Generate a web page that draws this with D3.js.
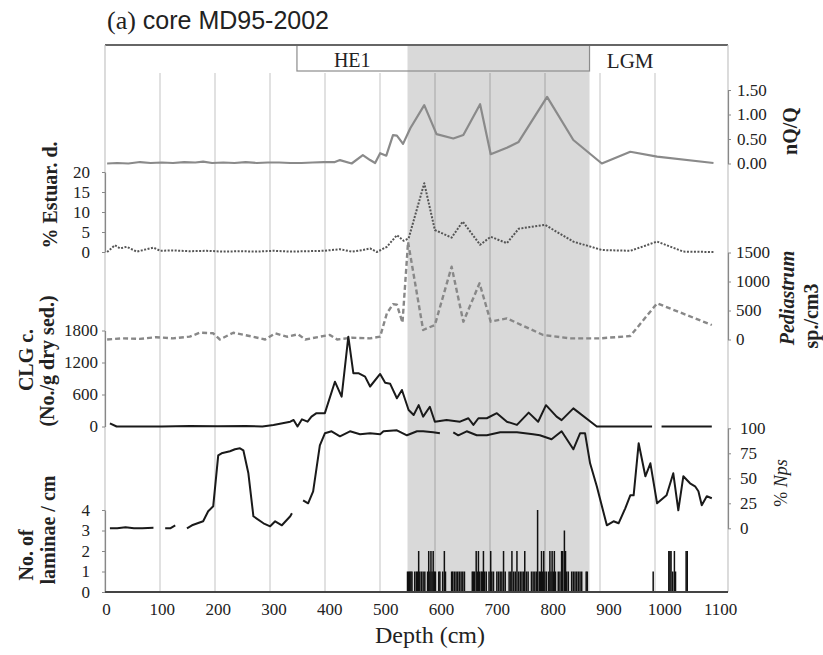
<!DOCTYPE html>
<html><head><meta charset="utf-8">
<script src="https://cdn.jsdelivr.net/npm/d3@7"></script>
<style>body{margin:0;background:#fff} svg{display:block}</style>
</head><body>
<script>
// ---------------- data ----------------
const xTicks = [0,100,200,300,400,500,600,700,800,900,1000,1100];
const gridTicks = [100,200,300,400,500,600,700,800,900,1000];
// zone bounds (depth, cm): HE1 box start, shaded start, shaded end
const zoneBounds = [342, 540, 866];
const lgmDepth = 897;

// nQ/Q (grey solid)
const qDepth = [2,20,40,61,80,100,120,140,160,174,190,210,230,250,270,290,310,330,350,370,390,410,419,440,460,473,482,491,502,514,521,532,545,570,592,622,640,670,689,718,739,790,837,888,939,987,1088];
const qVal   = [0.0,0.01,0.0,0.03,0.01,0.02,0.01,0.03,0.02,0.04,0.01,0.02,0.01,0.03,0.01,0.02,0.02,0.01,0.01,0.02,0.03,0.03,0.07,0.0,0.17,0.07,0.01,0.21,0.16,0.58,0.57,0.40,0.72,1.19,0.60,0.51,0.58,1.21,0.19,0.32,0.44,1.36,0.48,0.0,0.24,0.14,0.01];

// % Estuarine dinocysts (dotted)
const eDepth = [2,16,25,37,55,85,97,120,150,180,210,240,270,300,330,360,390,419,440,460,473,485,503,521,533,542,570,589,619,639,670,689,718,739,786,837,888,939,987,1034,1088];
const eVal   = [0,1.7,0.9,1.3,0.1,1.1,0.3,0.4,0.2,0.3,0.1,0.2,0.1,0.3,0.1,0.2,0.3,0.7,0.1,0.5,0.9,0,1.3,4.2,2.8,3.4,17.2,5.5,3.6,7.6,1.8,3.8,2.2,5.8,6.8,2.6,0.5,0.3,2.6,0.1,0];

// Pediastrum sp./cm3 (dashed)
const pDepth = [2,30,60,90,120,150,168,192,204,228,263,285,303,324,344,357,383,401,414,440,473,491,503,514,521,531,541,568,589,619,640,669,689,718,783,831,885,939,987,1085];
const pVal   = [0,20,10,40,20,50,117,107,0,117,48,0,107,48,90,0,48,78,0,30,20,50,450,610,600,290,1680,164,250,1255,307,969,307,365,78,20,20,60,624,250];

// CLG concentration (black solid), null = gap
const cDepth = [7,19,50,100,150,200,250,280,300,330,336,343,351,361,368,377,392,410,422,434,443,452,464,473,491,500,509,521,530,542,551,560,568,580,589,610,634,649,658,667,682,700,718,736,757,774,788,807,816,837,879,930,978,986,995,1040,1085];
const cVal   = [60,0,0,0,10,5,10,0,30,90,122,0,135,90,185,250,250,840,560,1685,1000,1000,935,750,985,820,800,530,685,310,215,400,185,370,90,120,90,155,30,155,155,250,90,30,260,90,400,185,120,340,0,0,0,null,0,0,0];

// % Nps (black solid), null = gap
const nDepth = [7,20,35,50,65,85,95,106,115,124,135,145,154,174,183,192,201,207,222,231,240,246,255,264,282,294,303,315,330,333,343,353,362,371,377,383,392,404,419,437,455,473,491,497,521,539,557,568,586,598,610,622,631,646,664,682,706,736,765,777,798,816,837,849,858,867,879,897,909,918,930,939,945,954,966,975,987,1004,1016,1025,1034,1046,1055,1061,1067,1076,1085];
const nVal   = [0,0,1,0,0,0.5,null,0,0,3,null,0,3,7,17,22,73,75,77,79,80,78,55,12,5,2,7,3,12,15,null,28,25,37,60,83,95,97,92,97,94,95,94,97,98,93,97,97,96,95,null,96,93,97,93,93,96,96,94,93,89,97,79,95,95,65,42,3,7,5,20,33,33,85,52,65,25,33,55,18,52,45,42,37,23,32,30];

// No. of laminae / cm (bars)
const lamDepth = [540,542,544,546,548,553,556,558,560,562,565,568,571,576,578,580,582,584,586,588,590,596,598,603,606,608,619,621,624,627,630,633,636,639,642,656,658,660,663,665,667,669,672,674,676,678,681,686,689,691,694,700,703,706,709,712,715,722,725,727,730,733,736,739,742,745,748,750,753,756,762,765,768,771,773,776,778,780,782,784,786,789,793,795,797,799,801,803,805,810,813,816,818,821,823,825,828,834,837,840,843,846,849,852,860,862,980,1008,1010,1012,1015,1018,1020,1039,1041];
const lamCount = [1,1,1,1,1, 1,1,1,2,1,1,1,1, 1,2,1,2,1,2,1,1, 1,1, 1,2,1, 1,1,1,1,1,1,1,1,1, 1,1,1,2,1,2,1,1,1,2,1,1, 1,2,1,1, 1,1,1,1,2,1, 1,1,2,1,1,2,1,1,1,1,2,1,1, 1,1,1, 1,4,1,1,2,1,2,1,1, 1,2,1,2,1,2,1, 1,1,2,2,3,2,1,1, 1,1,1,1,1,1,1, 1,1, 1, 2,2,2,1,2,1, 2,2];

const qTicks = [0,0.5,1,1.5];
const eTicks = [0,5,10,15,20];
const pTicks = [0,500,1000,1500];
const cTicks = [0,600,1200,1800];
const nTicks = [0,25,50,75,100];
const lTicks = [0,1,2,3,4];

// ---------------- drawing ----------------
const W = 823, H = 655;
const SERIF = "'Liberation Serif','Times New Roman',serif";
const svg = d3.select("body").append("svg").attr("width", W).attr("height", H)
  .style("font-family", SERIF);

const L = 105, R = 728, T = 45, B = 592;
const x = d3.scaleLinear().domain([0, 1114]).range([106, 728]);
const gridX = d3.scaleLinear().domain([0, 1100]).range([105, 710]);

const yQ = d3.scaleLinear().domain([0, 1.5]).range([163.5, 90]);
const yE = d3.scaleLinear().domain([0, 20]).range([252, 172]);
const yP = d3.scaleLinear().domain([0, 1500]).range([339.5, 252.5]);
const yC = d3.scaleLinear().domain([0, 1800]).range([426.5, 330.5]);
const yN = d3.scaleLinear().domain([0, 100]).range([528.3, 428.3]);
const yL = d3.scaleLinear().domain([0, 4]).range([592, 510]);

const plain = d => String(d);

// shaded interval
svg.append("rect")
  .attr("x", x(zoneBounds[1])).attr("y", T)
  .attr("width", x(zoneBounds[2]) - x(zoneBounds[1])).attr("height", B - T)
  .attr("fill", "#d9d9d9");

// gridlines
svg.append("g").selectAll("line").data(gridTicks).join("line")
  .attr("x1", d => gridX(d)).attr("x2", d => gridX(d))
  .attr("y1", 73).attr("y2", B)
  .attr("stroke", "rgba(0,0,0,0.2)").attr("stroke-width", 1.2);

// HE1 box
svg.append("rect")
  .attr("x", x(zoneBounds[0])).attr("y", T)
  .attr("width", x(zoneBounds[2]) - x(zoneBounds[0])).attr("height", 26)
  .attr("fill", "none").attr("stroke", "#8c8c8c").attr("stroke-width", 1.2);
svg.append("text").attr("x", (x(zoneBounds[0]) + x(zoneBounds[1])) / 2).attr("y", 67)
  .attr("text-anchor", "middle").attr("font-size", 20).attr("fill", "#222").text("HE1");
svg.append("text").attr("x", x(lgmDepth)).attr("y", 68)
  .attr("font-size", 21).attr("fill", "#222").text("LGM");

// frame
svg.append("line").attr("x1", L).attr("x2", R).attr("y1", T).attr("y2", T)
  .attr("stroke", "#666").attr("stroke-width", 2);
[L, R].forEach(v => svg.append("line").attr("x1", v).attr("x2", v).attr("y1", T).attr("y2", B)
  .attr("stroke", "#c4c4c4").attr("stroke-width", 1.2));

// title
const title = svg.append("text").attr("x", 107).attr("y", 29).attr("fill", "#222");
title.append("tspan").attr("font-family", SERIF).attr("font-size", 26).text("(a)");
title.append("tspan").attr("font-family", "'Liberation Sans',Arial,sans-serif").attr("font-size", 25).text(" core MD95-2002");

// series helper
function series(depths, vals) {
  return depths.map((d, i) => ({ d, v: vals[i] }));
}
function drawLine(depths, vals, yScale, attrs) {
  const line = d3.line().defined(p => p.v !== null).x(p => x(p.d)).y(p => yScale(p.v));
  const p = svg.append("path").datum(series(depths, vals)).attr("d", line)
    .attr("fill", "none").attr("stroke-linejoin", "round");
  Object.entries(attrs).forEach(([k, v]) => p.attr(k, v));
}

// laminae bars
svg.append("g").selectAll("rect").data(series(lamDepth, lamCount)).join("rect")
  .attr("x", p => x(p.d) - 0.75).attr("width", 1.5)
  .attr("y", p => yL(p.v)).attr("height", p => yL(0) - yL(p.v))
  .attr("fill", "#111");

drawLine(qDepth, qVal, yQ, { stroke: "#8a8a8a", "stroke-width": 2.2 });
drawLine(eDepth, eVal, yE, { stroke: "#555", "stroke-width": 2, "stroke-dasharray": "2,1.5" });
drawLine(pDepth, pVal, yP, { stroke: "#888", "stroke-width": 2.4, "stroke-dasharray": "5,3" });
drawLine(cDepth, cVal, yC, { stroke: "#1a1a1a", "stroke-width": 2 });
drawLine(nDepth, nVal, yN, { stroke: "#1a1a1a", "stroke-width": 2 });

// axes
function styleAxis(g) {
  g.selectAll("path.domain").attr("stroke", "#888").attr("stroke-width", 1.2);
  g.selectAll(".tick line").attr("stroke", "#888");
  g.selectAll("text").attr("font-size", 17).attr("fill", "#222").attr("font-family", SERIF);
}
function leftAxis(scale, ticks, pad) {
  svg.append("g").attr("transform", `translate(${L},0)`)
    .call(d3.axisLeft(scale).tickValues(ticks).tickFormat(plain).tickSize(3).tickSizeOuter(0).tickPadding(pad))
    .call(styleAxis);
}
function rightAxis(scale, ticks, pad, fmt) {
  const a = d3.axisRight(scale).tickValues(ticks).tickFormat(fmt || plain).tickSize(3).tickSizeOuter(0).tickPadding(pad);
  svg.append("g").attr("transform", `translate(${R},0)`).call(a).call(styleAxis);
}
leftAxis(yE, eTicks, 12);
leftAxis(yC, cTicks, 4);
leftAxis(yL, lTicks, 12);
rightAxis(yQ, qTicks, 6, d3.format(".2f"));
rightAxis(yP, pTicks, 5);
rightAxis(yN, nTicks, 9);

// bottom axis
const xa = svg.append("g").attr("transform", `translate(0,${B})`)
  .call(d3.axisBottom(x).tickValues(xTicks).tickFormat(plain).tickSize(0).tickSizeOuter(0).tickPadding(11));
xa.select("path.domain").attr("stroke", "#444").attr("stroke-width", 1.8).attr("d", `M${L},0H${R}`);
xa.selectAll("text").attr("font-size", 17).attr("fill", "#222").attr("font-family", SERIF);

svg.append("text").attr("x", 430).attr("y", 643).attr("text-anchor", "middle")
  .attr("font-size", 24).attr("fill", "#222").text("Depth (cm)");

// rotated titles
function vlabel(xp, yc, parts, size, weight) {
  const t = svg.append("text").attr("transform", `translate(${xp},${yc}) rotate(-90)`)
    .attr("text-anchor", "middle").attr("font-size", size).attr("font-weight", weight).attr("fill", "#222");
  parts.forEach(p => {
    const s = t.append("tspan").text(p.t);
    if (p.i) s.attr("font-style", "italic");
  });
}
vlabel(57, 195, [{ t: "% Estuar. d." }], 20, "bold");
vlabel(33, 360, [{ t: "CLG c." }], 20, "bold");
vlabel(54, 361, [{ t: "(No./g dry sed.)" }], 20, "bold");
vlabel(33, 555, [{ t: "No. of" }], 20, "bold");
vlabel(55, 530, [{ t: "laminae / cm" }], 20, "bold");
vlabel(797, 131, [{ t: "nQ/Q" }], 20, "bold");
vlabel(794, 298, [{ t: "Pediastrum", i: true }], 20, "bold");
vlabel(818, 316, [{ t: "sp./cm3" }], 20, "bold");
vlabel(787, 483, [{ t: "% " }, { t: "Nps", i: true }], 18, "normal");
</script>
</body></html>
